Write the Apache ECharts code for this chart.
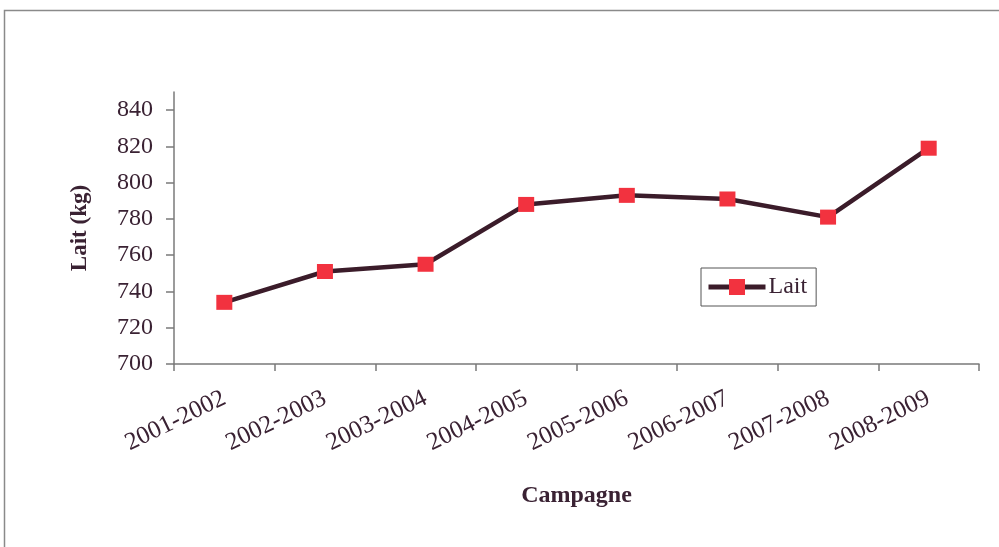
<!DOCTYPE html>
<html>
<head>
<meta charset="utf-8">
<script src="https://cdn.jsdelivr.net/npm/echarts@6/dist/echarts.min.js"></script>
<style>
html,body{margin:0;padding:0;background:#fff;}
#chart{width:999px;height:547px;}
</style>
</head>
<body>
<div id="chart"></div>
<script>
const categories = ['2001-2002','2002-2003','2003-2004','2004-2005','2005-2006','2006-2007','2007-2008','2008-2009'];
const laitValues = [734, 751, 755, 788, 793, 791, 781, 819];
const yTickValues = [700, 720, 740, 760, 780, 800, 820, 840];
const seriesName = 'Lait';
const xAxisTitle = 'Campagne';
const yAxisTitle = 'Lait (kg)';

const textColor = '#3a2233';
const font = 'Liberation Serif';

const chart = echarts.init(document.getElementById('chart'), null, {renderer: 'canvas'});
chart.setOption({
  backgroundColor: '#fff',
  animation: false,
  graphic: [{
    type: 'rect',
    shape: {x: 4.5, y: 10.5, width: 1100, height: 700},
    style: {fill: 'none', stroke: '#8a8a8a', lineWidth: 1.5},
    silent: true
  }],
  grid: {left: 174, right: 20, top: 92, bottom: 183},
  legend: {
    show: true,
    left: 701, top: 268,
    orient: 'horizontal',
    itemWidth: 57, itemHeight: 20,
    padding: [7, 9, 7, 5],
    borderColor: '#555',
    borderWidth: 1,
    lineStyle: {width: 5, color: '#3b1c2a'},
    textStyle: {fontFamily: font, fontSize: 24, color: textColor, padding: [0,0,0,-2]},
    data: [seriesName]
  },
  xAxis: {
    type: 'category',
    data: categories,
    boundaryGap: true,
    axisLine: {lineStyle: {color: '#7a7a7a', width: 1.5}},
    axisTick: {show: true, length: 7, alignWithLabel: false, lineStyle: {color: '#7a7a7a', width: 1.5}},
    axisLabel: {rotate: 26, margin: 33, interval: 0, fontFamily: font, fontSize: 25, color: textColor},
    name: xAxisTitle,
    nameLocation: 'middle',
    nameGap: 120,
    nameTextStyle: {fontFamily: font, fontSize: 24, fontWeight: 'bold', color: textColor}
  },
  yAxis: {
    type: 'value',
    min: 700, max: 850, interval: 10,
    splitLine: {show: false},
    axisLine: {show: true, lineStyle: {color: '#7a7a7a', width: 1.5}},
    axisTick: {show: true, length: 8, customValues: yTickValues, lineStyle: {color: '#7a7a7a', width: 1.5}},
    axisLabel: {customValues: yTickValues, margin: 21, fontFamily: font, fontSize: 24, color: textColor},
    name: yAxisTitle,
    nameLocation: 'middle',
    nameGap: 82,
    nameRotate: 90,
    nameTextStyle: {fontFamily: font, fontSize: 23, fontWeight: 'bold', color: textColor}
  },
  series: [{
    name: seriesName,
    type: 'line',
    data: laitValues,
    symbol: 'rect',
    symbolSize: [16, 15],
    lineStyle: {color: '#3b1c2a', width: 4.5},
    itemStyle: {color: '#f2323f', borderWidth: 0},
    emphasis: {disabled: true}
  }]
});
</script>
</body>
</html>
